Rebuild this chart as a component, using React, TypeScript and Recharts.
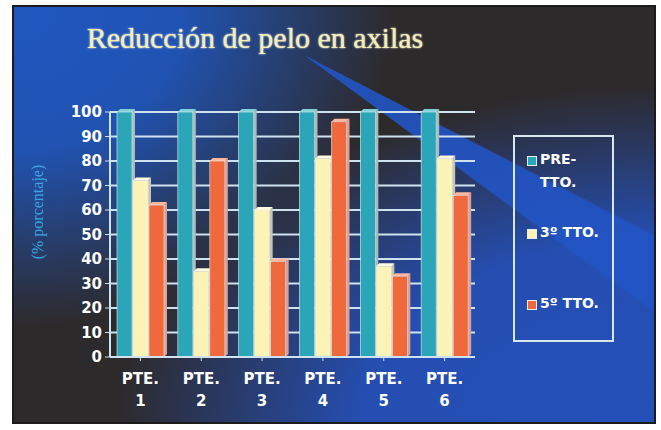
import React from 'react';
import { BarChart, Bar, XAxis, YAxis, CartesianGrid } from 'recharts';

const patients = ['1', '2', '3', '4', '5', '6'];
const preTto = [100, 100, 100, 100, 100, 100];
const tto3 = [72, 35, 60, 81, 37, 81];
const tto5 = [62, 80, 39, 96, 33, 66];
const yTicks = [0, 10, 20, 30, 40, 50, 60, 70, 80, 90, 100];

const data = patients.map((p, i) => ({
    name: p,
    pre: preTto[i],
    t3: tto3[i],
    t5: tto5[i],
}));

const series = [
    { key: 'pre', label: ['PRE-', 'TTO.'], fill: '#2ba6b8', side: '#a9bcbc', top: '#7fd0d8' },
    { key: 't3', label: ['3º TTO.'], fill: '#fcf3b6', side: '#c9c6b4', top: '#fffbe0' },
    { key: 't5', label: ['5º TTO.'], fill: '#f0693c', side: '#d9a198', top: '#ffb79e' },
];

const tickFont = '"DejaVu Sans", "Liberation Sans", Arial, sans-serif';

// bar with a small 3d side and top
function Bar3D(props: any) {
    const { x, y, width, height, fill, side, top } = props;
    if (!height || height <= 0) return null;
    const d = 3;
    return (
        <g>
            <polygon
                points={`${x + width},${y} ${x + width + d},${y - d} ${x + width + d},${y + height - d} ${x + width},${y + height}`}
                fill={side}
            />
            <polygon
                points={`${x},${y} ${x + d},${y - d} ${x + width + d},${y - d} ${x + width},${y}`}
                fill={top}
            />
            <rect x={x} y={y} width={width} height={height} fill={fill} stroke="#e8eef0" strokeWidth={0.6} />
        </g>
    );
}

function PatientTick(props: any) {
    const { x, y, payload } = props;
    return (
        <g transform={`translate(${x},${y})`}>
            <text x={0} y={21} textAnchor="middle" fill="#ffffff" fontFamily={tickFont} fontWeight="bold" fontSize={15}>
                PTE.
            </text>
            <text x={0} y={43} textAnchor="middle" fill="#ffffff" fontFamily={tickFont} fontWeight="bold" fontSize={15}>
                {payload.value}
            </text>
        </g>
    );
}

export default function App() {
    return (
        <div style={{ position: 'absolute', left: 0, top: 0, width: 661, height: 430, background: '#ffffff', overflow: 'hidden' }}>
            <div
                style={{
                    position: 'absolute',
                    left: 12,
                    top: 5,
                    width: 644,
                    height: 419,
                    boxSizing: 'border-box',
                    border: '2px solid #1c1c1c',
                    backgroundColor: '#2d2a2c',
                    backgroundImage: [
                        'conic-gradient(from 0deg at 290px 48px, transparent 0deg 117deg, rgba(34,84,196,0.9) 117.5deg 126deg, transparent 126.5deg 360deg)',
                        'radial-gradient(ellipse 380px 320px at 0px 0px, #1f57c0 0%, rgba(31,87,192,0.9) 45%, rgba(31,87,192,0) 100%)',
                        'radial-gradient(ellipse 540px 340px at 644px 419px, #2450b8 0%, rgba(36,80,184,0.95) 55%, rgba(36,80,184,0) 100%)',
                    ].join(', '),
                }}
            />
            <div
                style={{
                    position: 'absolute',
                    left: 85,
                    top: 21,
                    width: 340,
                    textAlign: 'center',
                    fontFamily: '"Liberation Serif", "Times New Roman", serif',
                    fontSize: 30,
                    color: '#f5efb4',
                    textShadow: '0 0 2px #ffffff',
                    whiteSpace: 'nowrap',
                }}
            >
                Reducción de pelo en axilas
            </div>
            <div
                style={{
                    position: 'absolute',
                    left: 38 - 80,
                    top: 212 - 10,
                    width: 160,
                    height: 20,
                    lineHeight: '20px',
                    textAlign: 'center',
                    transform: 'rotate(-90deg)',
                    fontFamily: '"Liberation Serif", "Times New Roman", serif',
                    fontSize: 16,
                    color: '#3aa3e3',
                    whiteSpace: 'nowrap',
                }}
            >
                (% porcentaje)
            </div>
            <div style={{ position: 'absolute', left: 0, top: 0 }}>
                <BarChart
                    width={661}
                    height={430}
                    data={data}
                    margin={{ top: 112, right: 186, bottom: 33, left: 60 }}
                    barSize={15}
                    barGap={1}
                >
                    <CartesianGrid horizontal vertical={false} stroke="#cfe2ef" strokeWidth={2} />
                    <XAxis
                        dataKey="name"
                        height={40}
                        tick={<PatientTick />}
                        tickLine={{ stroke: '#cfe2ef' }}
                        tickSize={4}
                        axisLine={{ stroke: '#cfe2ef', strokeWidth: 2 }}
                    />
                    <YAxis
                        width={50}
                        domain={[0, 100]}
                        ticks={yTicks}
                        interval={0}
                        tickSize={5}
                        tickMargin={3}
                        tickLine={{ stroke: '#cfe2ef' }}
                        axisLine={{ stroke: '#cfe2ef', strokeWidth: 2 }}
                        tick={{ fill: '#ffffff', fontFamily: tickFont, fontWeight: 'bold', fontSize: 15 }}
                    />
                    {series.map((s) => (
                        <Bar
                            key={s.key}
                            dataKey={s.key}
                            fill={s.fill}
                            isAnimationActive={false}
                            shape={(p: any) => <Bar3D {...p} fill={s.fill} side={s.side} top={s.top} />}
                        />
                    ))}
                </BarChart>
            </div>
            <div
                style={{
                    position: 'absolute',
                    left: 513,
                    top: 135,
                    width: 101,
                    height: 207,
                    boxSizing: 'border-box',
                    border: '2px solid #d8e6f0',
                    fontFamily: tickFont,
                    fontWeight: 'bold',
                    fontSize: 14,
                    color: '#ffffff',
                }}
            >
                {series.map((s, i) => (
                    <div
                        key={s.key}
                        style={{
                            position: 'absolute',
                            left: 12,
                            top: [11, 84, 155][i],
                            display: 'flex',
                            alignItems: 'flex-start',
                            lineHeight: '23px',
                        }}
                    >
                        <span
                            style={{
                                display: 'inline-block',
                                width: 8,
                                height: 8,
                                marginTop: 8,
                                marginRight: 3,
                                background: s.fill,
                                border: '1px solid #e8eef0',
                            }}
                        />
                        <span style={{ whiteSpace: 'nowrap' }}>
                            {s.label.map((l) => (
                                <div key={l}>{l}</div>
                            ))}
                        </span>
                    </div>
                ))}
            </div>
        </div>
    );
}
